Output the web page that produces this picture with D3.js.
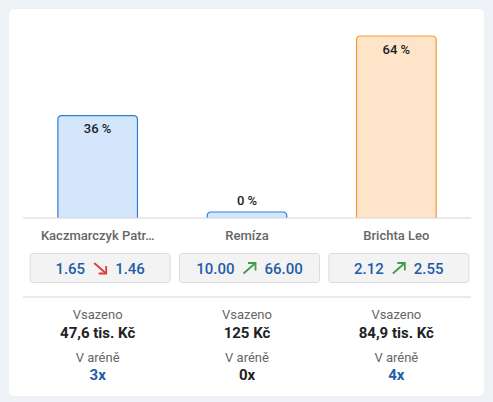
<!DOCTYPE html>
<html>
<head>
<meta charset="utf-8">
<script src="https://cdn.jsdelivr.net/npm/d3@7"></script>
<style>
  html, body { margin: 0; padding: 0; background: #eef2f6; }
  svg { display: block; font-family: Roboto, "Noto Sans", sans-serif; }
</style>
</head>
<body>
<svg id="chart" width="493" height="402"></svg>
<script>
// values
const names = ["Kaczmarczyk Patr…", "Remíza", "Brichta Leo"];
const shares = [36, 0, 64];
const oddsFrom = ["1.65", "10.00", "2.12"];
const oddsTo = ["1.46", "66.00", "2.55"];
const staked = ["47,6 tis. Kč", "125 Kč", "84,9 tis. Kč"];
const arena = [3, 0, 4];

const baseY = 218, topY = 36;
const svg = d3.select('#chart');

// card
svg.append('rect')
  .attr('x', 9).attr('y', 9).attr('width', 475).attr('height', 387)
  .attr('rx', 5).attr('fill', '#fff');

const x = d3.scaleBand().domain(names).range([23, 471])
  .paddingInner(0.467).paddingOuter(0.2335);
const y = d3.scaleLinear().domain([0, d3.max(shares)]).range([baseY, topY]);

const rows = names.map((n, i) => ({
  name: n, share: shares[i], from: +oddsFrom[i], fromTxt: oddsFrom[i],
  to: +oddsTo[i], toTxt: oddsTo[i], staked: staked[i], arena: arena[i]
}));

const maxShare = d3.max(shares);
function barColors(d) {
  // biggest share is orange, the rest blue
  return d.share === maxShare
    ? { fill: '#fee4c9', stroke: '#f59a32' }
    : { fill: '#d4e6fb', stroke: '#2f7fd6' };
}

// bar with rounded top corners, open at the bottom
function barPath(x0, w, top, bottom, r) {
  return `M${x0},${bottom}V${top + r}Q${x0},${top} ${x0 + r},${top}` +
    `H${x0 + w - r}Q${x0 + w},${top} ${x0 + w},${top + r}V${bottom}`;
}

const g = svg.selectAll('.col').data(rows).enter().append('g').attr('class', 'col');
const barTop = d => Math.min(y(d.share), baseY - 6);

g.append('path')
  .attr('d', d => barPath(x(d.name), x.bandwidth(), barTop(d), baseY, 4) + 'Z')
  .attr('fill', d => barColors(d).fill);
g.append('path')
  .attr('d', d => barPath(x(d.name), x.bandwidth(), barTop(d), baseY, 4))
  .attr('fill', 'none')
  .attr('stroke', d => barColors(d).stroke)
  .attr('stroke-width', 1.2);

g.append('text')
  .attr('x', d => x(d.name) + x.bandwidth() / 2)
  .attr('y', d => d.share > 5 ? y(d.share) + 17.5 : baseY - 13)
  .attr('text-anchor', 'middle')
  .attr('font-size', 13).attr('font-weight', 500).attr('fill', '#222')
  .text(d => d.share + ' %');

// baseline
svg.append('line').attr('x1', 23).attr('x2', 471).attr('y1', baseY).attr('y2', baseY)
  .attr('stroke', '#d6d6d6').attr('stroke-width', 1);

const cx = d => x(d.name) + x.bandwidth() / 2;
const bx = d => cx(d) + 2.5;

g.append('text')
  .attr('x', cx).attr('y', 240)
  .attr('text-anchor', 'middle')
  .attr('font-size', 13).attr('font-weight', 500).attr('fill', '#666')
  .text(d => d.name);

// odds boxes
g.append('rect')
  .attr('x', d => bx(d) - 70).attr('y', 253.5).attr('width', 140).attr('height', 29)
  .attr('rx', 3).attr('fill', '#f3f3f3').attr('stroke', '#dcdcdc');

g.each(function (d) {
  const box = d3.select(this).append('g');
  const up = d.to > d.from;
  const t1 = box.append('text').attr('y', 273.5).attr('font-size', 15).attr('font-weight', 500)
    .attr('fill', '#1f5da8').text(d.fromTxt);
  const t2 = box.append('text').attr('y', 273.5).attr('font-size', 15).attr('font-weight', 500)
    .attr('fill', '#1f5da8').text(d.toTxt);
  const w1 = t1.node().getComputedTextLength();
  const w2 = t2.node().getComputedTextLength();
  const aw = 12, gap = 9;
  const total = w1 + gap + aw + gap + w2;
  const start = bx(d) - total / 2;
  t1.attr('x', start);
  const ax = start + w1 + gap;
  t2.attr('x', ax + aw + gap);
  const color = up ? '#3f9e47' : '#e03b3b';
  const y0 = up ? 273.5 : 263, y1 = up ? 263 : 273.5;
  box.append('path')
    .attr('d', `M${ax},${y0}L${ax + aw},${y1}`)
    .attr('stroke', color).attr('stroke-width', 1.8).attr('fill', 'none');
  const hx = ax + aw;
  box.append('path')
    .attr('d', up
      ? `M${hx - 7.5},${y1}H${hx}V${y1 + 7.5}`
      : `M${hx - 7.5},${y1}H${hx}V${y1 - 7.5}`)
    .attr('stroke', color).attr('stroke-width', 1.8).attr('fill', 'none');
});

// separator
svg.append('line').attr('x1', 23).attr('x2', 471).attr('y1', 297).attr('y2', 297)
  .attr('stroke', '#d6d6d6').attr('stroke-width', 1);

g.append('text').attr('x', cx).attr('y', 319).attr('text-anchor', 'middle')
  .attr('font-size', 13).attr('fill', '#666').text('Vsazeno');
g.append('text').attr('x', cx).attr('y', 338).attr('text-anchor', 'middle')
  .attr('font-size', 15).attr('font-weight', 700).attr('fill', '#222').text(d => d.staked);
g.append('text').attr('x', cx).attr('y', 362).attr('text-anchor', 'middle')
  .attr('font-size', 13).attr('fill', '#666').text('V aréně');
g.append('text').attr('x', cx).attr('y', 380).attr('text-anchor', 'middle')
  .attr('font-size', 15).attr('font-weight', 700)
  .attr('fill', d => d.arena > 0 ? '#1f5da8' : '#222').text(d => d.arena + 'x');
</script>
</body>
</html>
